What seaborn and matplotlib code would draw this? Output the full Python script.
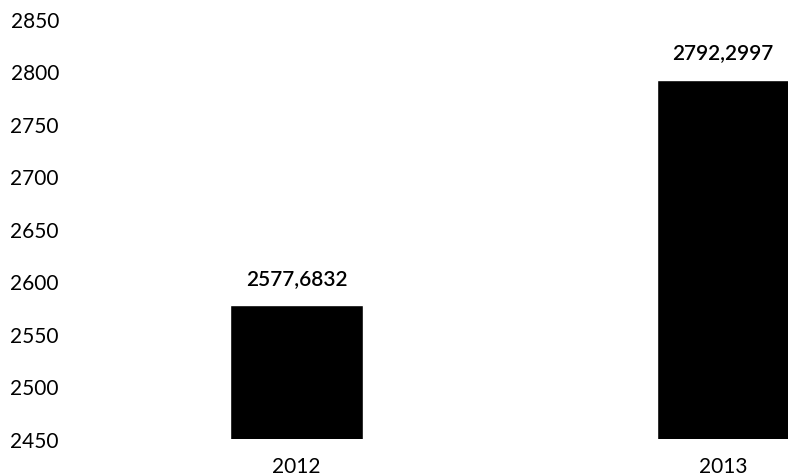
import matplotlib
matplotlib.use("Agg")
import matplotlib.pyplot as plt
import seaborn as sns
import pandas as pd

# Annual values
years = ["2012", "2013"]
values = [2577.6832, 2792.2997]
y_ticks = [2450, 2500, 2550, 2600, 2650, 2700, 2750, 2800, 2850]

sns.set_theme(style="white")
plt.rcParams["font.family"] = ["Lato", "DejaVu Sans"]

W, H = 788, 477
fig = plt.figure(figsize=(W / 100, H / 100), dpi=100)
left_px, right_px, top_px, bottom_px = 70, 788, 20, 440
ax = fig.add_axes([left_px / W, (H - bottom_px) / H,
                   (right_px - left_px) / W, (bottom_px - top_px) / H])

df = pd.DataFrame({"year": years, "value": values})
sns.barplot(data=df, x="year", y="value", color="black", saturation=1,
            width=0.312, ax=ax)

ax.set_ylim(y_ticks[0], y_ticks[-1])
ax.set_yticks(y_ticks)
ax.set_yticklabels([str(t) for t in y_ticks])
ax.set_xlim(-0.531, 1.152)

for s in ax.spines.values():
    s.set_visible(False)
ax.tick_params(axis="y", length=0, pad=8.0, labelsize=15, colors="black")
ax.tick_params(axis="x", length=0, pad=12.0, labelsize=15, colors="black")
ax.set_xlabel("")
ax.set_ylabel("")
ax.grid(False)

for i, v in enumerate(values):
    ax.annotate(f"{v:.4f}".replace(".", ","), xy=(i, v), xytext=(0, 12.5),
                textcoords="offset points", ha="center", va="bottom",
                fontsize=15, fontweight="semibold", color="black")

fig.savefig("out.png", dpi=100)
